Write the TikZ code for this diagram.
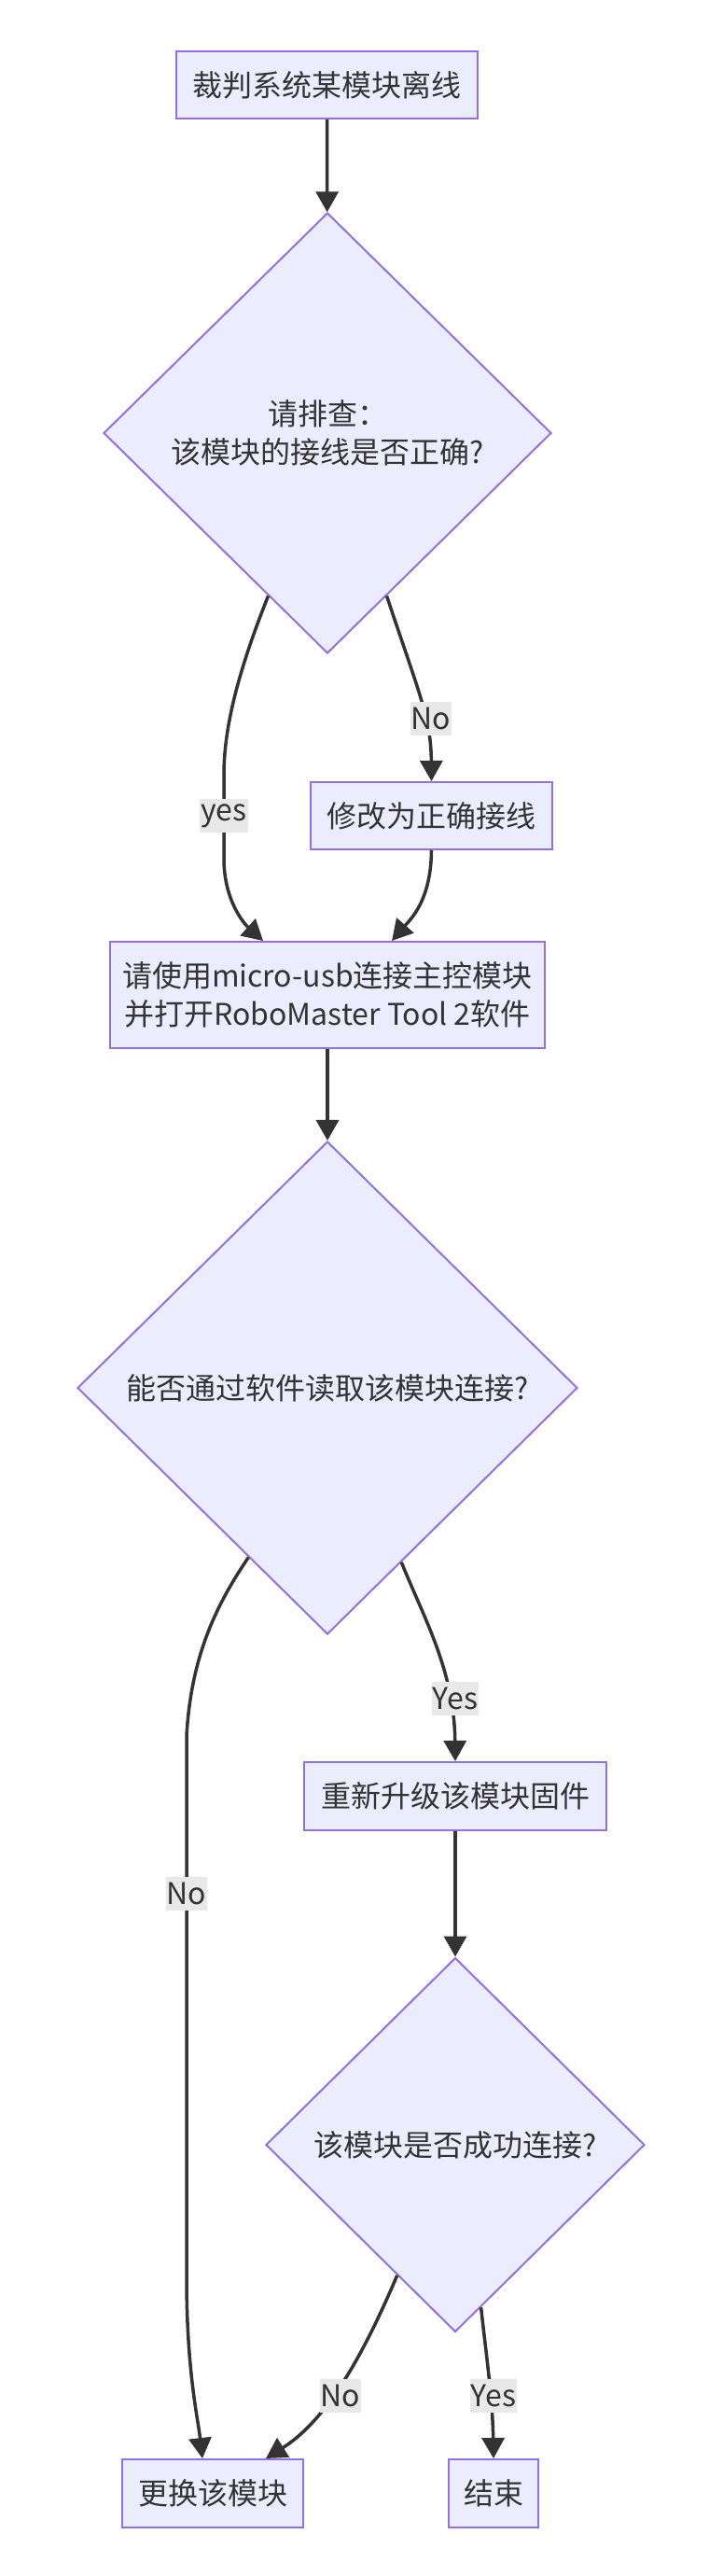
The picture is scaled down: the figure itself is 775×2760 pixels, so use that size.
\documentclass[tikz,border=0pt]{standalone}
\usepackage{fontspec}
\setmainfont{Noto Sans CJK SC}
\usetikzlibrary{shapes.geometric,arrows.meta}
\definecolor{nodefill}{HTML}{ECECFF}
\definecolor{nodeborder}{HTML}{9370DB}
\definecolor{edgecol}{HTML}{333333}
\definecolor{lblfill}{HTML}{E8E8E8}
\definecolor{txtcol}{HTML}{333333}
\begin{document}
\begin{tikzpicture}[x=1pt,y=-1pt,
  base/.style={fill=nodefill, draw=nodeborder, line width=2pt, text=txtcol,
    font=\fontsize{32pt}{41pt}\selectfont, inner sep=0pt, align=center},
  box/.style={base, rectangle},
  dec/.style={base, diamond},
  arr/.style={draw=edgecol, line width=3.5pt, -{Triangle[length=22pt,width=24pt]}},
  lbl/.style={fill=lblfill, text=txtcol, font=\fontsize{32pt}{41pt}\selectfont,
    inner xsep=1pt, inner ysep=0pt, minimum height=36pt}
]
\useasboundingbox (0,0) rectangle (775,2760);
\fill[white] (0,0) rectangle (775,2760);

% nodes
\node[box, minimum width=323pt, minimum height=72pt] (top) at (350.5,91) {裁判系统某模块离线};
\node[dec, minimum width=480pt, minimum height=472pt] (d1) at (351,464) {请排查：\\该模块的接线是否正确?};
\node[box, minimum width=259pt, minimum height=72pt] (fix) at (462.5,874) {修改为正确接线};
\node[box, minimum width=466pt, minimum height=114pt] (big) at (351,1066) {请使用micro-usb连接主控模块\\并打开RoboMaster Tool 2软件};
\node[dec, minimum width=536pt, minimum height=528pt] (d2) at (351,1487) {能否通过软件读取该模块连接?};
\node[box, minimum width=324pt, minimum height=73pt] (upg) at (488,1924.5) {重新升级该模块固件};
\node[dec, minimum width=406pt, minimum height=401pt] (d3) at (488,2298) {该模块是否成功连接?};
\node[box, minimum width=194pt, minimum height=73pt] (repl) at (228,2671.5) {更换该模块};
\node[box, minimum width=96pt, minimum height=73pt] (fin) at (529,2671.5) {结束};

% edges
\draw[arr] (top) -- (d1);
\draw[arr] (d1.-70) .. controls (450,745) and (462,770) .. (fix.north);
\draw[arr] (d1.-110) .. controls (255,720) and (240,780) .. (240,830) -- (240,920)
  .. controls (240,965) and (262,990) .. ([xshift=-69pt]big.north);
\draw[arr] (fix.south) .. controls (462,965) and (440,985) .. ([xshift=69pt]big.north);
\draw[arr] (big) -- (d2);
\draw[arr] (d2.-115) .. controls (235,1715) and (205,1770) .. (200,1860) -- (200,2440)
  .. controls (200,2540) and (212,2590) .. ([xshift=-11pt]repl.north);
\draw[arr] (d2.-67) .. controls (455,1735) and (487,1790) .. (upg.north);
\draw[arr] (upg) -- (d3);
\draw[arr] (d3.-114) .. controls (395,2510) and (355,2590) .. ([xshift=57pt]repl.north);
\draw[arr] (d3.-81) .. controls (522,2530) and (528,2570) .. (fin.north);

% labels
\node[lbl] (l1) at (462,770) {No};
\node[lbl] (l2) at (240,874) {yes};
\node[lbl] (l3) at (488,1820) {Yes};
\node[lbl] (l4) at (200,2029) {No};
\node[lbl] (l5) at (365,2567) {No};
\node[lbl] (l6) at (529,2567) {Yes};
\end{tikzpicture}
\end{document}
